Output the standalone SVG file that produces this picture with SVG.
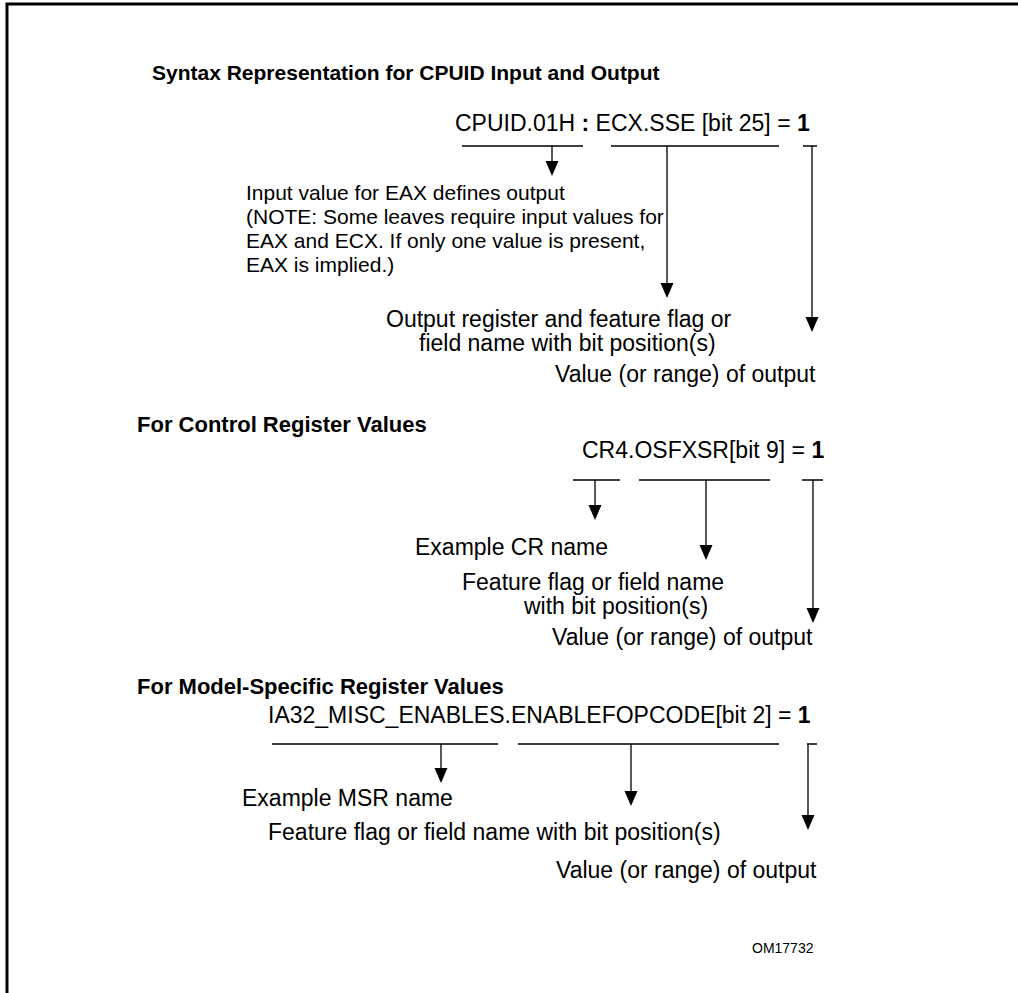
<svg xmlns="http://www.w3.org/2000/svg" width="1018" height="993" viewBox="0 0 1018 993">
<style>
.t{font-family:"Liberation Sans",Arial,sans-serif;font-size:23px;fill:#000}
.t.s{font-size:21px}
.h{font-family:"Liberation Sans",Arial,sans-serif;font-size:22px;font-weight:bold;fill:#000}
.h.m{font-size:21px}
.b{font-weight:bold}
.ln{stroke:#000;stroke-width:1.3;fill:none}
.hd{fill:#000;stroke:none}
</style>
<defs>
<path id="ah" d="M-6.5,-15 L6.5,-15 L0,0 Z"/>
</defs>
<rect x="0" y="0" width="1018" height="993" fill="#fff"/>
<path d="M7,993 V4 H1018" stroke="#000" stroke-width="3" fill="none"/>

<g id="sec1-title"><text class="h m" x="152" y="80">Syntax Representation for CPUID Input and Output</text></g>
<g id="sec1-expr"><text class="t" x="455" y="131">CPUID.01H <tspan class="b">:</tspan> ECX.SSE [bit 25] = <tspan class="b">1</tspan></text></g>
<g id="sec1-input"><text class="t s" x="246" y="200">Input value for EAX defines output</text>
<text class="t s" x="246" y="224">(NOTE: Some leaves require input values for</text>
<text class="t s" x="246" y="248">EAX and ECX. If only one value is present,</text>
<text class="t s" x="246" y="272">EAX is implied.)</text></g>
<g id="sec1-output"><text class="t" x="386" y="327">Output register and feature flag or</text>
<text class="t" x="419" y="351">field name with bit position(s)</text></g>
<g id="sec1-value"><text class="t" x="555" y="382">Value (or range) of output</text></g>

<g id="sec2-title"><text class="h" x="137" y="432">For Control Register Values</text></g>
<g id="sec2-expr"><text class="t" x="582" y="458">CR4.OSFXSR[bit 9] = <tspan class="b">1</tspan></text></g>
<g id="sec2-cr"><text class="t" x="415" y="555">Example CR name</text></g>
<g id="sec2-flag"><text class="t" x="462" y="590">Feature flag or field name</text>
<text class="t" x="524" y="614">with bit position(s)</text></g>
<g id="sec2-value"><text class="t" x="552" y="645">Value (or range) of output</text></g>

<g id="sec3-title"><text class="h" x="137" y="694">For Model-Specific Register Values</text></g>
<g id="sec3-expr"><text class="t" x="268" y="723">IA32_MISC_ENABLES.ENABLEFOPCODE[bit 2] = <tspan class="b">1</tspan></text></g>
<g id="sec3-msr"><text class="t" x="242" y="806">Example MSR name</text></g>
<g id="sec3-flag"><text class="t" x="268" y="840">Feature flag or field name with bit position(s)</text></g>
<g id="sec3-value"><text class="t" x="556" y="878">Value (or range) of output</text></g>

<g id="figid"><text x="752" y="953" font-family="'Liberation Sans',Arial,sans-serif" font-size="14">OM17732</text></g>

<g id="connectors">
<path class="ln" d="M462,146 H583 M611,146 H779 M803,146 H817"/>
<path class="ln" d="M552,146 V163 M667,146 V285 M812,146 V319"/>
<use href="#ah" class="hd" x="552" y="176"/>
<use href="#ah" class="hd" x="667" y="298"/>
<use href="#ah" class="hd" x="812" y="332"/>
<path class="ln" d="M573,480 H620 M639,480 H770 M802,480 H823"/>
<path class="ln" d="M595,480 V507 M706,480 V547 M813,480 V610"/>
<use href="#ah" class="hd" x="595" y="520"/>
<use href="#ah" class="hd" x="706" y="560"/>
<use href="#ah" class="hd" x="813" y="623"/>
<path class="ln" d="M272,744 H498 M518,744 H779 M807,744 H817"/>
<path class="ln" d="M441,744 V770 M631,744 V793 M808,744 V817"/>
<use href="#ah" class="hd" x="441" y="783"/>
<use href="#ah" class="hd" x="631" y="806"/>
<use href="#ah" class="hd" x="808" y="830"/>
</g>
</svg>
